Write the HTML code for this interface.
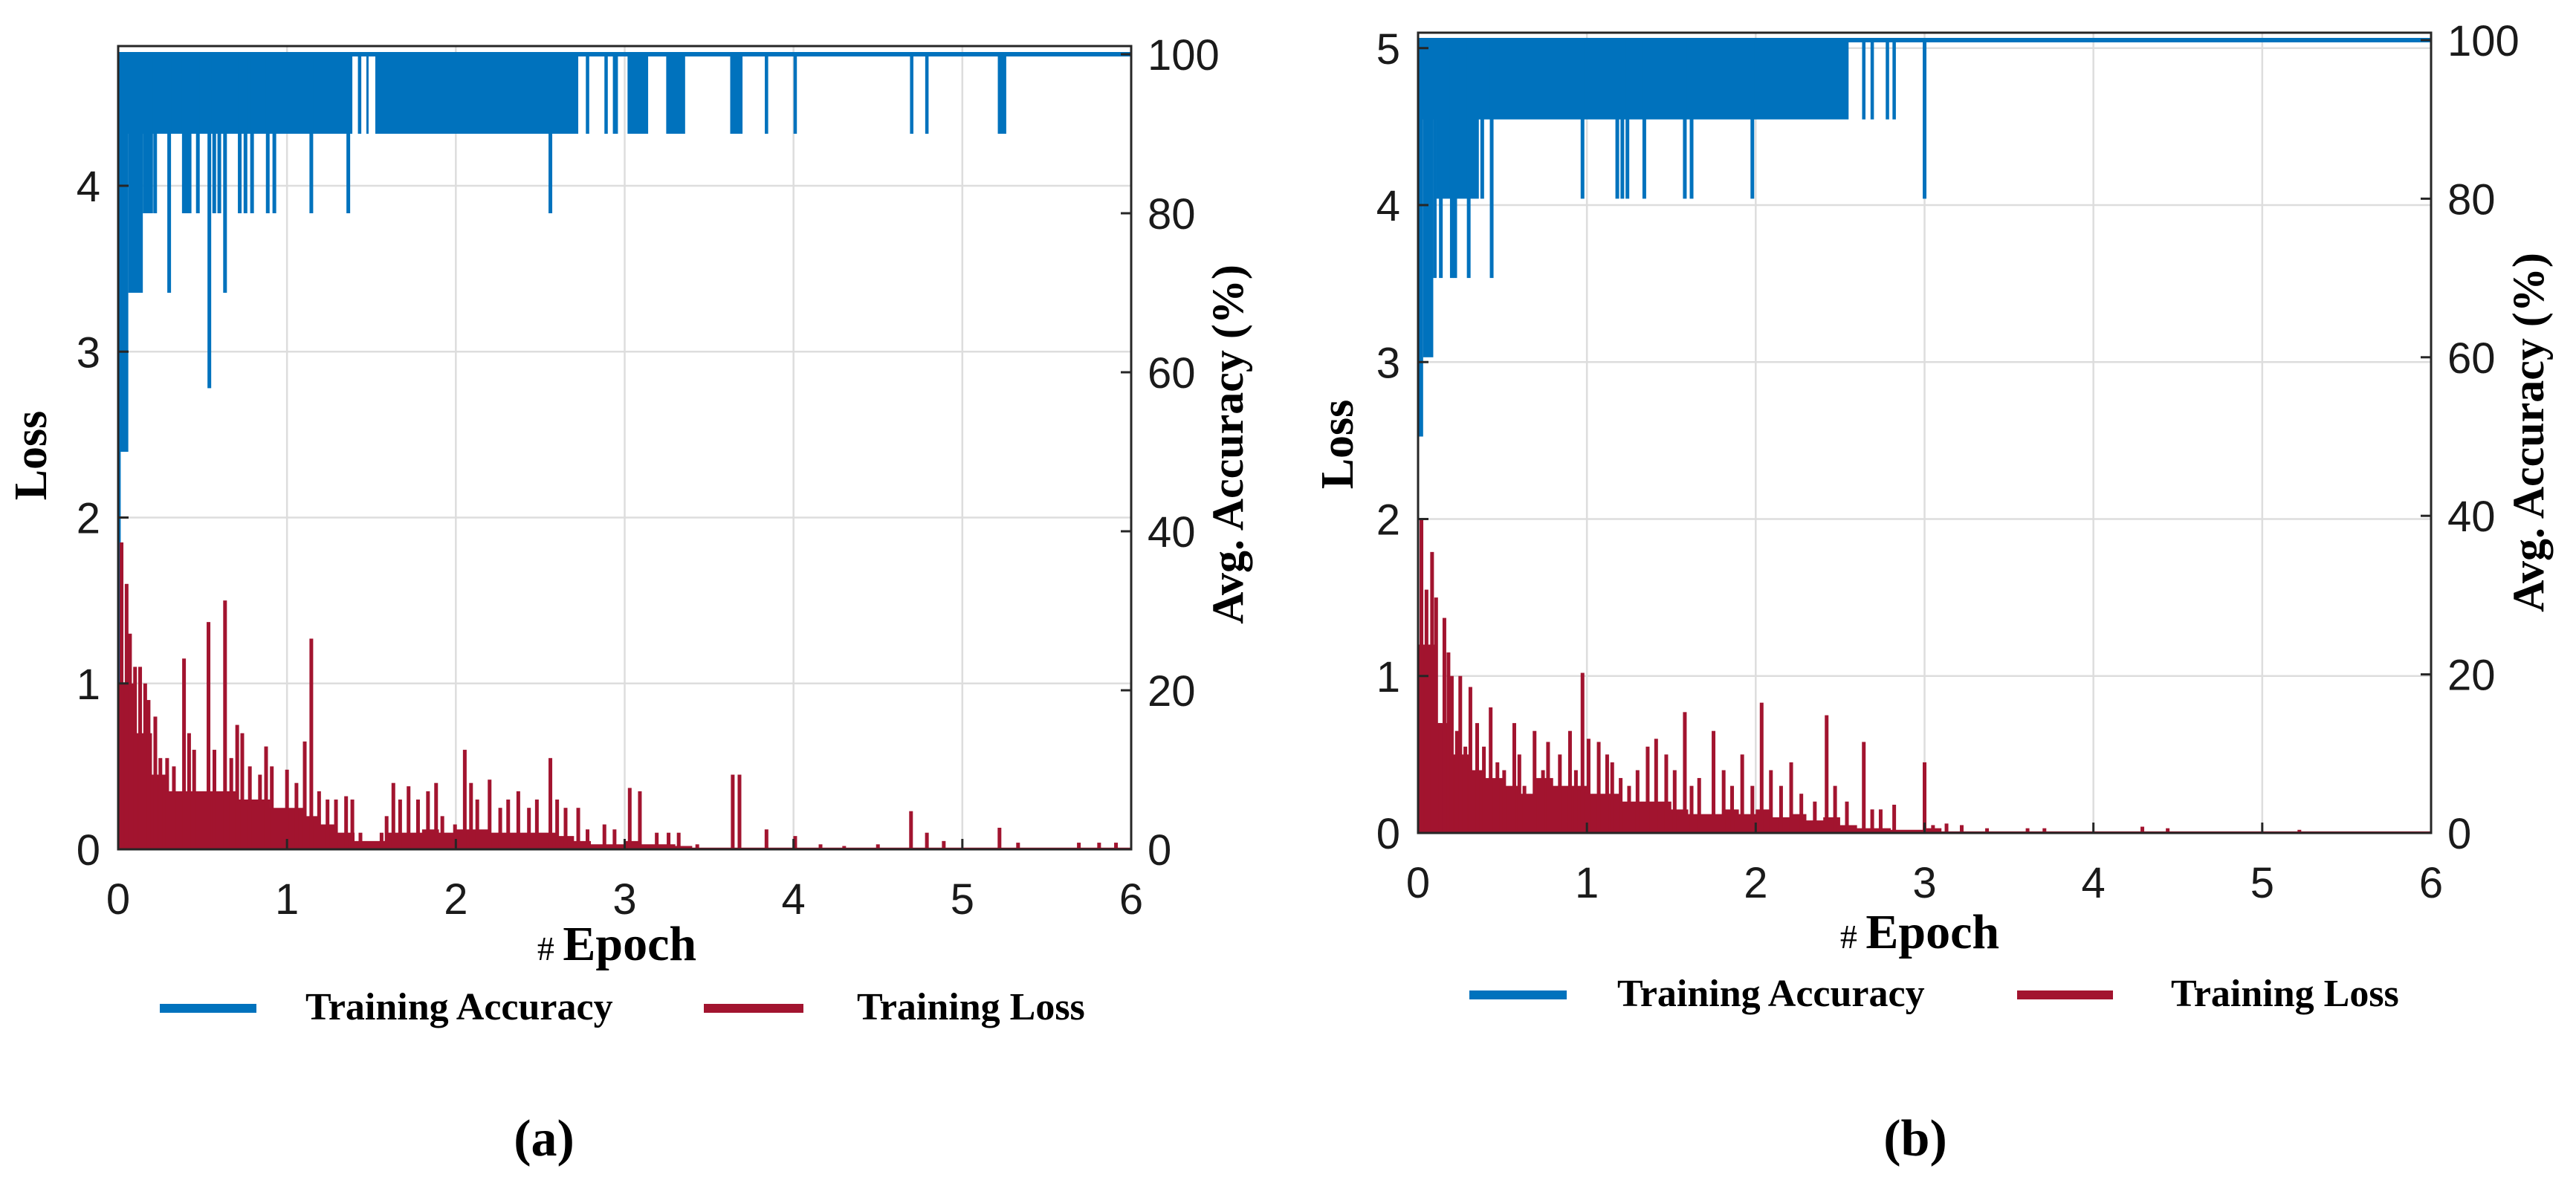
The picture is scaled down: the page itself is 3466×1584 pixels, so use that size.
<!DOCTYPE html>
<html><head><meta charset="utf-8">
<style>
html,body{margin:0;padding:0;background:#fff;}
svg{display:block;}
.tk{font-family:"Liberation Sans",Arial,sans-serif;font-size:58px;fill:#1a1a1a;}
.tt{font-family:"Liberation Serif","Times New Roman",serif;font-weight:bold;fill:#000;}
</style></head>
<body>
<svg id="fig" width="3466" height="1584" viewBox="0 0 3466 1584" xmlns="http://www.w3.org/2000/svg">
<rect width="3466" height="1584" fill="#fff"/>
<g id="pa"></g>
<g id="pb"></g>
<g>
<text class="tt" font-size="62" transform="translate(62,613) rotate(-90)" text-anchor="middle">Loss</text>
<text class="tt" font-size="60" transform="translate(1672,598) rotate(-90)" text-anchor="middle">Avg. Accuracy (%)</text>
<text class="tt" font-size="66" x="830" y="1292" text-anchor="middle"><tspan font-size="46" font-weight="normal"># </tspan>Epoch</text>
<rect x="215" y="1351" width="130" height="12" fill="#0072bd"/>
<text class="tt" font-size="52" x="411" y="1372">Training Accuracy</text>
<rect x="947" y="1351" width="134" height="12" fill="#a2142f"/>
<text class="tt" font-size="52" x="1153" y="1372">Training Loss</text>
<text class="tt" font-size="70" x="732" y="1555" text-anchor="middle">(a)</text>

<text class="tt" font-size="62" transform="translate(1820,598) rotate(-90)" text-anchor="middle">Loss</text>
<text class="tt" font-size="60" transform="translate(3422,582) rotate(-90)" text-anchor="middle">Avg. Accuracy (%)</text>
<text class="tt" font-size="66" x="2583" y="1276" text-anchor="middle"><tspan font-size="46" font-weight="normal"># </tspan>Epoch</text>
<rect x="1977" y="1333" width="131" height="12" fill="#0072bd"/>
<text class="tt" font-size="52" x="2176" y="1354">Training Accuracy</text>
<rect x="2714" y="1333" width="129" height="12" fill="#a2142f"/>
<text class="tt" font-size="52" x="2921" y="1354">Training Loss</text>
<text class="tt" font-size="70" x="2577" y="1555" text-anchor="middle">(b)</text>
</g>
</svg>
<script>
// ---------- Panel (a) data ----------
const xTicks = [0,1,2,3,4,5,6];
const accTicks = [0,20,40,60,80,100];
const aLossTicks = [0,1,2,3,4];
const bLossTicks = [0,1,2,3,4,5];
// loss envelope (solid fill level) per 0.1 epoch bin
const aLossEnv = [1.0,0.7,0.45,0.35,0.35,0.35,0.35,0.3,0.3,0.25,0.25,0.2,0.15,0.1,0.05,0.05,0.1,0.1,0.12,0.1,0.12,0.12,0.1,0.1,0.1,0.1,0.08,0.05,0.03,0.03,0.05,0.03,0.03,0.02,0.01,0.01,0.01,0.01,0.01,0.01,0.01,0.01,0.01,0.01,0.01,0.01,0.01,0.01,0.01,0.01,0.01,0.01,0.01,0.01,0.01,0.01,0.01,0.01,0.01,0.01];
const aSpikeEpoch = [0.02,0.05,0.07,0.1,0.13,0.16,0.18,0.22,0.25,0.29,0.33,0.39,0.42,0.45,0.535,0.57,0.633,0.67,0.705,0.735,0.78,0.84,0.876,0.91,1.0,1.056,1.105,1.144,1.19,1.24,1.29,1.35,1.387,1.435,1.56,1.59,1.63,1.67,1.72,1.776,1.835,1.883,1.92,1.995,2.053,2.09,2.127,2.2,2.263,2.31,2.37,2.433,2.48,2.56,2.6,2.65,2.725,2.78,2.88,2.94,3.03,3.09,3.19,3.26,3.32,3.43,3.64,3.68,3.84,4.01,4.16,4.3,4.5,4.696,4.79,4.89,5.22,5.33,5.69,5.81,5.91];
const aSpikeLoss = [1.85,1.6,1.3,1.1,1.1,1.0,0.9,0.8,0.55,0.55,0.5,1.15,0.7,0.6,1.37,0.6,1.5,0.55,0.75,0.7,0.5,0.45,0.62,0.5,0.48,0.4,0.65,1.27,0.35,0.3,0.3,0.32,0.3,0.1,0.1,0.2,0.4,0.3,0.38,0.3,0.35,0.4,0.2,0.15,0.6,0.4,0.3,0.42,0.25,0.3,0.35,0.25,0.3,0.55,0.3,0.25,0.25,0.12,0.15,0.12,0.37,0.35,0.1,0.1,0.1,0.03,0.45,0.45,0.12,0.08,0.03,0.02,0.03,0.23,0.1,0.05,0.13,0.04,0.04,0.04,0.04];
const aBandStart = [0,0,0.06,0.146,0,1.42,1.47,1.523,2.77,2.88,2.93,3.017,3.246,3.625,3.83,4.0,4.69,4.78,5.21];
const aBandEnd   = [0.015,0.06,0.146,0.195,1.387,1.44,1.48,2.725,2.79,2.9,2.96,3.139,3.358,3.698,3.85,4.02,4.71,4.8,5.26];
const aBandLow   = [5,50,70,80,90,90,90,90,90,90,90,90,90,90,90,90,90,90,90];
const aDipEpoch = [0.195,0.219,0.302,0.389,0.405,0.423,0.472,0.54,0.569,0.599,0.633,0.72,0.754,0.793,0.886,0.925,1.144,1.363,2.56];
const aDipAcc   = [80,80,70,80,80,80,80,58,80,80,70,80,80,80,80,80,80,80,80];

// ---------- Panel (b) data ----------
const bLossEnv = [1.2,0.7,0.5,0.4,0.35,0.3,0.25,0.35,0.3,0.3,0.25,0.25,0.2,0.2,0.2,0.15,0.12,0.12,0.15,0.12,0.15,0.1,0.12,0.08,0.1,0.05,0.03,0.03,0.02,0.02,0.03,0.01,0.01,0.01,0.01,0.01,0.01,0.01,0.01,0.01,0.01,0.01,0.01,0.01,0.01,0.01,0.01,0.01,0.01,0.01,0.01,0.01,0.01,0.01,0.01,0.01,0.01,0.01,0.01,0.01];
const bSpikeEpoch = [0.02,0.05,0.083,0.107,0.13,0.156,0.18,0.2,0.23,0.25,0.28,0.31,0.35,0.39,0.43,0.47,0.51,0.57,0.6,0.63,0.69,0.74,0.77,0.84,0.9,0.935,0.974,1.01,1.07,1.12,1.15,1.2,1.25,1.3,1.36,1.41,1.47,1.52,1.58,1.62,1.665,1.75,1.81,1.86,1.92,1.98,2.035,2.09,2.15,2.21,2.27,2.35,2.42,2.47,2.54,2.64,2.69,2.74,2.82,3.0,3.05,3.13,3.22,3.37,3.61,3.71,4.29,4.44,5.22];
const bSpikeLoss = [2.0,1.55,1.79,1.5,0.7,1.37,1.15,1.0,0.65,1.0,0.55,0.93,0.7,0.55,0.8,0.45,0.4,0.7,0.5,0.3,0.65,0.4,0.58,0.5,0.65,0.4,1.02,0.6,0.58,0.5,0.45,0.35,0.3,0.4,0.55,0.6,0.5,0.4,0.77,0.3,0.35,0.65,0.4,0.3,0.5,0.3,0.83,0.4,0.3,0.45,0.25,0.2,0.75,0.3,0.2,0.58,0.15,0.15,0.18,0.45,0.05,0.06,0.05,0.03,0.03,0.03,0.04,0.03,0.02];
const bBandStart = [0,0.03,0.09,0.11,0,2.63,2.68,2.77,2.81];
const bBandEnd   = [0.03,0.09,0.11,0.36,2.55,2.65,2.7,2.79,2.83];
const bBandLow   = [50,60,70,80,90,90,90,90,90];
const bDipEpoch = [0.135,0.2,0.22,0.3,0.38,0.436,0.974,1.18,1.21,1.24,1.34,1.58,1.62,1.98,3.0];
const bDipAcc   = [70,70,70,70,80,70,80,80,80,80,80,80,80,80,80];

const NS = "http://www.w3.org/2000/svg";
function mk(tag, attrs, parent){
  const e = document.createElementNS(NS, tag);
  for (const k in attrs) e.setAttribute(k, attrs[k]);
  parent.appendChild(e);
  return e;
}

function drawPanel(g, geo, lossTicks, env, spX, spV, bS, bE, bL, dX, dA, pfx){
  const X = ep => geo.left + (ep/6)*(geo.right-geo.left);
  const YL = v => geo.bottom - v*geo.lossUnit;
  const YA = a => geo.bottom - a*geo.accUnit;
  // grid
  for (const t of lossTicks){
    if (t===0) continue;
    const l = mk('line',{x1:geo.left,x2:geo.right,y1:YL(t),y2:YL(t),stroke:'#dddddd','stroke-width':2.5},g);
    
    
  }
  for (const t of xTicks){
    if (t===0||t===6) continue;
    const l = mk('line',{x1:X(t),x2:X(t),y1:geo.top,y2:geo.bottom,stroke:'#dddddd','stroke-width':2.5},g);
    
    
  }
  // accuracy series
  const acc = mk('g',{fill:'#0072bd'},g);
  
  
  const top = mk('rect',{x:geo.left,y:YA(100)-3,width:geo.right-geo.left,height:6},acc);
  
  
  for (let i=0;i<bS.length;i++){
    const r = mk('rect',{x:X(bS[i]),y:YA(100),width:Math.max(3,X(bE[i])-X(bS[i])),height:YA(bL[i])-YA(100)},acc);
    
    
  }
  for (let i=0;i<dX.length;i++){
    const r = mk('rect',{x:X(dX[i])-2.5,y:YA(100),width:5,height:YA(dA[i])-YA(100)},acc);
    
    
  }
  // loss series
  const loss = mk('g',{fill:'#a2142f'},g);
  
  
  let d = 'M'+X(0)+','+YL(0);
  for (let i=0;i<env.length;i++){
    d += ' L'+X(i*0.1)+','+YL(env[i])+' L'+X((i+1)*0.1)+','+YL(env[i]);
  }
  d += ' L'+X(6)+','+YL(0)+' Z';
  const area = mk('path',{d:d},loss);
  
  
  for (let i=0;i<spX.length;i++){
    const r = mk('rect',{x:X(spX[i])-2.5,y:YL(spV[i]),width:5,height:YL(0)-YL(spV[i])},loss);
    
    
  }
  // frame
  const fr = mk('rect',{x:geo.left,y:geo.top,width:geo.right-geo.left,height:geo.bottom-geo.top,fill:'none',stroke:'#262626','stroke-width':3},g);
  
  
  // ticks + labels
  for (const t of xTicks){
    const tl = mk('line',{x1:X(t),x2:X(t),y1:geo.bottom,y2:geo.bottom-14,stroke:'#262626','stroke-width':3},g);
    
    
    const tx = mk('text',{x:X(t),y:geo.bottom+87,'text-anchor':'middle','class':'tk'},g);
    tx.textContent = t;
    
    
  }
  for (const t of lossTicks){
    const tl = mk('line',{x1:geo.left,x2:geo.left+14,y1:YL(t),y2:YL(t),stroke:'#262626','stroke-width':3},g);
    
    
    const tx = mk('text',{x:geo.left-24,y:YL(t)+21,'text-anchor':'end','class':'tk'},g);
    tx.textContent = t;
    
    
  }
  for (const t of accTicks){
    const tl = mk('line',{x1:geo.right,x2:geo.right-14,y1:YA(t),y2:YA(t),stroke:'#262626','stroke-width':3},g);
    
    
    const tx = mk('text',{x:geo.right+22,y:YA(t)+21,'text-anchor':'start','class':'tk'},g);
    tx.textContent = t;
    
    
  }
}

drawPanel(document.getElementById('pa'),
  {left:159,right:1522,top:62,bottom:1143,lossUnit:223.25,accUnit:10.7},
  aLossTicks, aLossEnv, aSpikeEpoch, aSpikeLoss, aBandStart, aBandEnd, aBandLow, aDipEpoch, aDipAcc, 'panel-a');
drawPanel(document.getElementById('pb'),
  {left:1908,right:3271,top:44,bottom:1121,lossUnit:211.25,accUnit:10.67},
  bLossTicks, bLossEnv, bSpikeEpoch, bSpikeLoss, bBandStart, bBandEnd, bBandLow, bDipEpoch, bDipAcc, 'panel-b');
</script>
</body></html>
